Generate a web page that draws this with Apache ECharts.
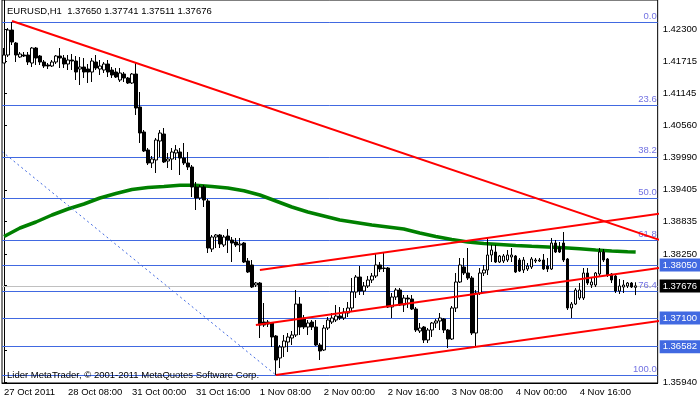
<!DOCTYPE html>
<html>
<head>
<meta charset="utf-8">
<script src="https://cdn.jsdelivr.net/npm/echarts@6/dist/echarts.min.js"></script>
<style>
  html, body { margin: 0; padding: 0; background: #fff; }
  #chart { width: 700px; height: 402px; }
</style>
</head>
<body>
<div id="chart"></div>
<script>
const font = 'Tahoma, "Liberation Sans", Arial, sans-serif'

// EURUSD H1 bars
const opens = [
  1.41688, 1.41832, 1.42282, 1.42048, 1.41796, 1.41832, 1.41832, 1.41688, 1.41958, 1.41814,
  1.41706, 1.41652, 1.41634, 1.41706, 1.41814, 1.41778, 1.41670, 1.41742, 1.41724, 1.41580,
  1.41616, 1.41580, 1.41526, 1.41706, 1.41580, 1.41562, 1.41670, 1.41562, 1.41526, 1.41382,
  1.41490, 1.41418, 1.41328, 1.41490, 1.40896, 1.40446, 1.40122, 1.39888, 1.39942, 1.40284,
  1.40410, 1.39924, 1.39960, 1.40068, 1.40086, 1.39978, 1.39888, 1.39816, 1.39456, 1.39258,
  1.39456, 1.39204, 1.38340, 1.38556, 1.38592, 1.38412, 1.38574, 1.38502, 1.38466, 1.38412,
  1.38448, 1.38124, 1.38052, 1.37692, 1.37728, 1.37026, 1.37026, 1.37008, 1.36774, 1.36378,
  1.36576, 1.36666, 1.36738, 1.36792, 1.37350, 1.37098, 1.36936, 1.37026, 1.36936, 1.36612,
  1.36522, 1.36918, 1.37026, 1.37062, 1.37134, 1.37098, 1.37188, 1.37278, 1.37566, 1.37836,
  1.37584, 1.37674, 1.37782, 1.37854, 1.38052, 1.37998, 1.37998, 1.37296, 1.37476, 1.37602,
  1.37332, 1.37458, 1.37440, 1.37260, 1.36864, 1.36936, 1.36702, 1.36882, 1.37008, 1.37044,
  1.37080, 1.36882, 1.36720, 1.37278, 1.37746, 1.38016, 1.37908, 1.37818, 1.36828, 1.37548,
  1.37908, 1.37962, 1.38232, 1.38286, 1.38106, 1.38124, 1.38142, 1.38196, 1.38214, 1.38142,
  1.37962, 1.37980, 1.38016, 1.38124, 1.38124, 1.38142, 1.38034, 1.37980, 1.38448, 1.38376,
  1.38448, 1.38160, 1.37278, 1.37350, 1.37458, 1.37458, 1.37908, 1.37692, 1.37692, 1.37890,
  1.38286, 1.38160, 1.37890, 1.37854, 1.37584, 1.37656, 1.37674, 1.37728, 1.37650
]
const closes = [
  1.41832, 1.42282, 1.42066, 1.41832, 1.41850, 1.41814, 1.41706, 1.41958, 1.41778, 1.41706,
  1.41634, 1.41634, 1.41706, 1.41814, 1.41778, 1.41670, 1.41742, 1.41724, 1.41526, 1.41616,
  1.41526, 1.41526, 1.41724, 1.41598, 1.41634, 1.41670, 1.41526, 1.41472, 1.41436, 1.41508,
  1.41418, 1.41328, 1.41490, 1.40878, 1.40428, 1.40104, 1.39888, 1.39960, 1.40302, 1.40428,
  1.39906, 1.39960, 1.40086, 1.40122, 1.39978, 1.39888, 1.39816, 1.39456, 1.39258, 1.39456,
  1.39222, 1.38358, 1.38556, 1.38592, 1.38430, 1.38556, 1.38502, 1.38448, 1.38412, 1.38430,
  1.38106, 1.37926, 1.37656, 1.37728, 1.36972, 1.36972, 1.36990, 1.36756, 1.36342, 1.36576,
  1.36684, 1.36756, 1.36792, 1.37350, 1.36936, 1.36936, 1.37008, 1.36936, 1.36612, 1.36504,
  1.36918, 1.37062, 1.37098, 1.37134, 1.37098, 1.37206, 1.37278, 1.37566, 1.37836, 1.37584,
  1.37674, 1.37782, 1.37854, 1.38052, 1.37980, 1.37989, 1.37296, 1.37476, 1.37602, 1.37332,
  1.37458, 1.37440, 1.37260, 1.36882, 1.36918, 1.36702, 1.36882, 1.37008, 1.37044, 1.37098,
  1.36882, 1.36720, 1.37278, 1.37746, 1.38052, 1.37908, 1.37818, 1.36828, 1.37548, 1.37908,
  1.37962, 1.38232, 1.38322, 1.38106, 1.38214, 1.38214, 1.38232, 1.38232, 1.37926, 1.37944,
  1.38142, 1.38034, 1.38160, 1.38142, 1.38142, 1.37980, 1.37980, 1.38448, 1.38286, 1.38286,
  1.38142, 1.37278, 1.37350, 1.37602, 1.37602, 1.37908, 1.37728, 1.37746, 1.37908, 1.38286,
  1.38142, 1.37872, 1.37782, 1.37584, 1.37674, 1.37692, 1.37728, 1.37656, 1.37676
]
const lows = [
  1.41688, 1.41796, 1.42012, 1.41706, 1.41778, 1.41796, 1.41652, 1.41616, 1.41652, 1.41652,
  1.41598, 1.41580, 1.41616, 1.41670, 1.41598, 1.41598, 1.41562, 1.41562, 1.41382, 1.41292,
  1.41418, 1.41328, 1.41346, 1.41562, 1.41472, 1.41508, 1.41436, 1.41418, 1.41418, 1.41346,
  1.41346, 1.41310, 1.41310, 1.40752, 1.40248, 1.40086, 1.39852, 1.39798, 1.39708, 1.39996,
  1.39888, 1.39798, 1.39762, 1.39942, 1.39672, 1.39852, 1.39762, 1.39276, 1.39042, 1.39222,
  1.39096, 1.38268, 1.38286, 1.38358, 1.38358, 1.38376, 1.38268, 1.38106, 1.38376, 1.38286,
  1.38088, 1.37908, 1.37638, 1.37656, 1.36738, 1.36936, 1.36936, 1.36576, 1.36072, 1.36198,
  1.36396, 1.36486, 1.36612, 1.36756, 1.36792, 1.36900, 1.36792, 1.36882, 1.36594, 1.36342,
  1.36504, 1.36882, 1.36990, 1.37026, 1.37062, 1.37062, 1.37116, 1.37206, 1.37458, 1.37512,
  1.37512, 1.37638, 1.37728, 1.37818, 1.37926, 1.37926, 1.37278, 1.37098, 1.37422, 1.37314,
  1.37206, 1.37278, 1.37242, 1.36846, 1.36828, 1.36648, 1.36648, 1.36756, 1.36918, 1.36882,
  1.36828, 1.36558, 1.36702, 1.37206, 1.37728, 1.37872, 1.37782, 1.36792, 1.36576, 1.37512,
  1.37854, 1.37872, 1.38106, 1.38088, 1.38088, 1.38088, 1.38106, 1.38106, 1.37908, 1.37926,
  1.37908, 1.37944, 1.37980, 1.38088, 1.38106, 1.37962, 1.37926, 1.37962, 1.38268, 1.38268,
  1.38106, 1.37242, 1.37098, 1.37332, 1.37422, 1.37422, 1.37692, 1.37638, 1.37656, 1.37836,
  1.38106, 1.37836, 1.37728, 1.37548, 1.37530, 1.37548, 1.37638, 1.37638, 1.37511
]
const highs = [
  1.41958, 1.42318, 1.42426, 1.42066, 1.41886, 1.41886, 1.41886, 1.41976, 1.41976, 1.41832,
  1.41742, 1.41688, 1.41742, 1.41832, 1.41958, 1.41832, 1.41832, 1.41850, 1.41814, 1.41796,
  1.41778, 1.41670, 1.41778, 1.41832, 1.41742, 1.41706, 1.41742, 1.41616, 1.41598, 1.41598,
  1.41526, 1.41436, 1.41508, 1.41688, 1.41166, 1.40482, 1.40158, 1.40014, 1.40338, 1.40482,
  1.40518, 1.40068, 1.40158, 1.40212, 1.40158, 1.40248, 1.40086, 1.39852, 1.39546, 1.39492,
  1.39492, 1.39240, 1.38592, 1.38610, 1.38610, 1.38592, 1.38700, 1.38556, 1.38538, 1.38538,
  1.38466, 1.38178, 1.38142, 1.37746, 1.37746, 1.37368, 1.37062, 1.37026, 1.36792, 1.36612,
  1.36792, 1.36828, 1.36864, 1.37602, 1.37476, 1.37152, 1.37062, 1.37062, 1.37062, 1.36648,
  1.36972, 1.37116, 1.37188, 1.37332, 1.37296, 1.37278, 1.37386, 1.37818, 1.37872, 1.38034,
  1.37746, 1.37854, 1.37908, 1.38250, 1.38106, 1.38268, 1.38016, 1.37548, 1.37638, 1.37638,
  1.37512, 1.37512, 1.37512, 1.37296, 1.37008, 1.36954, 1.36918, 1.37026, 1.37080, 1.37188,
  1.37098, 1.36900, 1.37314, 1.37908, 1.38178, 1.38178, 1.38358, 1.37854, 1.37602, 1.37998,
  1.38052, 1.38538, 1.38412, 1.38412, 1.38232, 1.38250, 1.38322, 1.38358, 1.38232, 1.38178,
  1.38196, 1.38088, 1.38196, 1.38178, 1.38178, 1.38250, 1.38178, 1.38538, 1.38502, 1.38466,
  1.38646, 1.38178, 1.37386, 1.37638, 1.37728, 1.37998, 1.37998, 1.37818, 1.37926, 1.38358,
  1.38340, 1.38178, 1.37908, 1.37890, 1.37800, 1.37782, 1.37746, 1.37746, 1.37741
]

// moving average (green), read every 4 bars
const maBars = [0, 4, 8, 12, 16, 20, 24, 28, 32, 36, 40, 44, 48, 52, 56, 60, 64, 68, 72, 76,
  80, 84, 88, 92, 96, 100, 104, 108, 112, 116, 120, 124, 128, 132, 136, 140, 144, 148, 152, 156, 158]
const maValues = [1.38565, 1.38718, 1.38826, 1.38952, 1.39060, 1.39150, 1.39258, 1.39339, 1.39411, 1.39447,
  1.39465, 1.39487, 1.39487, 1.39465, 1.39438, 1.39388, 1.39312, 1.39204, 1.39096, 1.39006,
  1.38934, 1.38862, 1.38817, 1.38772, 1.38736, 1.38700, 1.38628, 1.38565, 1.38511, 1.38466,
  1.38439, 1.38421, 1.38403, 1.38389, 1.38376, 1.38363, 1.38344, 1.38322, 1.38304, 1.38291, 1.38286]

// trend lines: [bar, price] end points
const lineFall = [[2, 1.42444], [164, 1.38502]]
const channelTop = [[64, 1.37962], [164, 1.38977]]
const channelMid = [[63, 1.36972], [164, 1.37998]]
const channelLow = [[68, 1.36072], [164, 1.37044]]
const fibBase = [[-0.5, 1.40095], [68, 1.36072]]

const fibHigh = 1.42426
const fibLow = 1.36072
const fibLevels = [0, 23.6, 38.2, 50, 61.8, 76.4, 100]
const hLines = [1.38050, 1.37100, 1.36582]
const bidPrice = 1.37676

const barCount = 164
const categories = []
for (let i = 0; i < barCount; i++) categories.push(String(i))
const xTickStep = 16
const xTickLabels = ['27 Oct 2011', '28 Oct 08:00', '31 Oct 00:00', '31 Oct 16:00', '1 Nov 08:00',
  '2 Nov 00:00', '2 Nov 16:00', '3 Nov 08:00', '4 Nov 00:00', '4 Nov 16:00']
const yTicks = [1.35940, 1.36525, 1.37095, 1.37680, 1.38250, 1.38835, 1.39405, 1.39990, 1.40560,
  1.41145, 1.41715, 1.42300]
const yMin = 1.35928
const yMax = 1.42822

const blue = '#4169e1'
const fibText = '#7272e2'

const showTick = (i) => i % xTickStep === 0 && i / xTickStep < xTickLabels.length

const markData = []
fibLevels.forEach(lvl => {
  markData.push({
    yAxis: fibHigh - lvl / 100 * (fibHigh - fibLow),
    lineStyle: { color: blue, width: 1, type: 'solid' },
    label: { show: true, position: 'insideEndTop', formatter: lvl.toFixed(1), color: fibText,
      fontFamily: font, fontSize: 9.5, distance: [1, 1] }
  })
})
hLines.forEach(p => {
  markData.push({
    yAxis: p,
    lineStyle: { color: blue, width: 1, type: 'solid' },
    label: { show: true, position: 'end', formatter: p.toFixed(5), color: '#fff', backgroundColor: blue,
      fontFamily: font, fontSize: 9.5, padding: [2, 4, 1, 3], distance: 2 }
  })
})
markData.push({
  yAxis: bidPrice,
  lineStyle: { color: '#c0c0c0', width: 1, type: 'solid' },
  label: { show: true, position: 'end', formatter: bidPrice.toFixed(5), color: '#fff', backgroundColor: '#000',
    fontFamily: font, fontSize: 9.5, padding: [2, 4, 1, 3], distance: 2 }
})

function trend(points, color, width, type) {
  return {
    type: 'line', xAxisIndex: 1, data: points, symbol: 'none', silent: true, z: 4,
    lineStyle: { color: color, width: width, type: type || 'solid' }
  }
}

const chart = echarts.init(document.getElementById('chart'))
chart.setOption({
  animation: false,
  backgroundColor: '#fff',
  grid: { left: 2, top: 0, width: 657, height: 383, show: true, borderColor: '#000', borderWidth: 1,
    backgroundColor: '#fff' },
  xAxis: [{
    type: 'category',
    data: categories,
    axisLine: { lineStyle: { color: '#000' } },
    axisTick: { interval: showTick, alignWithLabel: true, length: 3, lineStyle: { color: '#000' } },
    axisLabel: {
      interval: showTick, align: 'left', margin: 4, color: '#000', fontFamily: font, fontSize: 9.5,
      formatter: (v, i) => xTickLabels[i / xTickStep]
    },
    splitLine: { show: false }
  }, {
    type: 'value', min: -0.5, max: barCount - 0.5, show: false
  }],
  yAxis: {
    type: 'value',
    position: 'right',
    min: yMin,
    max: yMax,
    axisLine: { show: true, lineStyle: { color: '#000' } },
    axisTick: { show: true, length: 3, customValues: yTicks, lineStyle: { color: '#000' } },
    axisLabel: { customValues: yTicks, margin: 5, color: '#000', fontFamily: font, fontSize: 9.5,
      formatter: v => v.toFixed(5) },
    splitLine: { show: false }
  },
  graphic: [
    { type: 'text', left: 7, top: 6, z: 10, silent: true,
      style: { text: 'EURUSD,H1  1.37650 1.37741 1.37511 1.37676', fill: '#000', font: '9.5px ' + font } },
    { type: 'text', left: 7, top: 370, z: 10, silent: true,
      style: { text: 'Lider MetaTrader, \u00a9 2001-2011 MetaQuotes Software Corp.', fill: '#000', font: '9.5px ' + font } }
  ],
  series: [
    {
      type: 'line', xAxisIndex: 1, data: [], silent: true, z: 1,
      markLine: { silent: true, symbol: ['none', 'none'], precision: 5, z: 1, animation: false, data: markData }
    },
    trend(fibBase, blue, 1, [2, 3]),
    {
      type: 'line', xAxisIndex: 1, data: maBars.map((b, k) => [b, maValues[k]]), symbol: 'none',
      silent: true, z: 2, lineStyle: { color: '#008000', width: 3.5 }
    },
    {
      type: 'candlestick',
      z: 3,
      barWidth: 3,
      data: opens.map((o, i) => [o, closes[i], lows[i], highs[i]]),
      itemStyle: { color: '#fff', color0: '#000', borderColor: '#000', borderColor0: '#000', borderWidth: 1 }
    },
    trend(lineFall, '#ff0000', 2),
    trend(channelTop, '#ff0000', 2),
    trend(channelMid, '#ff0000', 2),
    trend(channelLow, '#ff0000', 2)
  ]
})
</script>
</body>
</html>
